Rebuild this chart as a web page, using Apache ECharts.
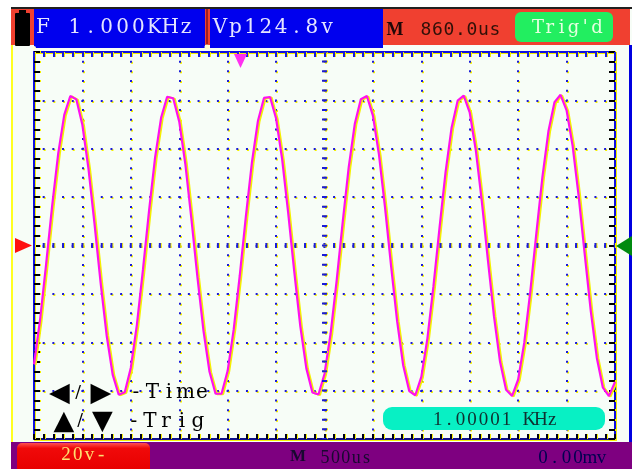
<!DOCTYPE html>
<html><head><meta charset="utf-8">
<script src="https://cdn.jsdelivr.net/npm/echarts@6/dist/echarts.min.js"></script>
<style>html,body{margin:0;padding:0;background:#fff}#c{width:632px;height:469px}</style>
</head><body><div id="c"></div>
<script>
// ---- data ----
const timeDivisionsUs = [0,500,1000,1500,2000,2500,3000,3500,4000,4500,5000,5500,6000];
const voltDivisions = [-80,-60,-40,-20,0,20,40,60,80];
const sampleTimesUs = [0,62.5,125,187.5,250,312.5,375,437.5,500,562.5,625,687.5,750,812.5,875,937.5,
1000,1062.5,1125,1187.5,1250,1312.5,1375,1437.5,1500,1562.5,1625,1687.5,1750,1812.5,1875,1937.5,
2000,2062.5,2125,2187.5,2250,2312.5,2375,2437.5,2500,2562.5,2625,2687.5,2750,2812.5,2875,2937.5,
3000,3062.5,3125,3187.5,3250,3312.5,3375,3437.5,3500,3562.5,3625,3687.5,3750,3812.5,3875,3937.5,
4000,4062.5,4125,4187.5,4250,4312.5,4375,4437.5,4500,4562.5,4625,4687.5,4750,4812.5,4875,4937.5,
5000,5062.5,5125,5187.5,5250,5312.5,5375,5437.5,5500,5562.5,5625,5687.5,5750,5812.5,5875,5937.5,6000];
const voltsCh1 = [-49.1,-30.8,-7.8,16.4,38.0,54.0,61.8,60.4,49.8,31.8,8.9,-15.2,-37.1,-53.4,-61.7,-60.7,
-50.5,-32.8,-10.1,14.1,36.2,52.8,61.5,60.9,51.2,33.8,11.2,-13.0,-35.2,-52.2,-61.3,-61.2,
-51.8,-34.7,-12.4,11.8,34.2,51.5,61.0,61.4,52.5,35.7,13.5,-10.7,-33.3,-50.8,-60.8,-61.6,
-53.1,-36.6,-14.7,9.5,32.3,50.2,60.5,61.8,53.7,37.6,15.8,-8.4,-31.3,-49.5,-60.2,-61.9,
-54.3,-38.5,-16.9,7.2,30.2,48.7,59.9,62.0,54.9,39.4,18.1,-6.0,-29.2,-48.0,-59.6,-62.2,
-55.4,-40.3,-19.2,4.9,28.2,47.2,59.2,62.3,55.9,41.2,20.3,-3.7,-27.1,-46.5,-58.8,-62.3,-56.4];
const readFreq = 'F 1.000KHz';
const readVpp = 'Vp124.8v';
const readTrigPos = '860.0us';
const readTrigState = "Trig'd";
const readFreqCounter = '1.00001 KHz';
const readVoltDiv = '20v-';
const readTimeDiv = '500us';
const readOffset = '0.00mv';

// ---- chart ----
const chart = echarts.init(document.getElementById('c'), null, {renderer:'canvas'});
const tickMin = timeDivisionsUs[0], tickMax = timeDivisionsUs[timeDivisionsUs.length-1];
const tStep = timeDivisionsUs[1]-timeDivisionsUs[0];
const vMin = voltDivisions[0], vMax = voltDivisions[voltDivisions.length-1];
const vStep = voltDivisions[1]-voltDivisions[0];

const YEL = '#f4f000';
const dotLine = {color:'#1c1cd8', width:2, type:[2,7.68], dashOffset:1, shadowColor:YEL, shadowOffsetX:1, shadowOffsetY:1, shadowBlur:0};
function axisDeco(tickColor, len, lineColor, split){
  return {
    axisLine:{show:true, onZero:false, lineStyle:{color:lineColor, width:2, shadowColor:YEL, shadowOffsetX:1, shadowOffsetY:1}},
    axisTick:{show:true, inside:true, length:len, lineStyle:{color:tickColor, width:2, shadowColor:YEL, shadowOffsetX:1, shadowOffsetY:0}},
    minorTick:{show:true, splitNumber:5, length:len, lineStyle:{color:tickColor, width:2, shadowColor:YEL, shadowOffsetX:1, shadowOffsetY:0}},
    axisLabel:{show:false},
    splitLine:{show:split, lineStyle:dotLine},
    minorSplitLine:{show:false}
  };
}
function row(str, x0, pitch, y, font, fill, extra){
  return str.split('').map((ch,i)=>({type:'text', z:20, x:x0+i*pitch, y:y,
    style:Object.assign({text:ch, font:font, fill:fill, align:'center', verticalAlign:'middle'}, extra||{})}));
}
const shadowY = {shadowColor:'#ffff00', shadowOffsetX:1, shadowOffsetY:1, shadowBlur:0};
const serif = '"DejaVu Serif", "Liberation Serif", serif';
const lserif = '"Liberation Serif", "DejaVu Serif", serif';
const sym = '27px "DejaVu Sans", sans-serif';

const elements = [
  {type:'rect', z:-10, shape:{x:11,y:7,width:621,height:462}, style:{fill:'#f7fdf7'}},
  {type:'rect', z:-9, shape:{x:11,y:7,width:621,height:2}, style:{fill:'#202020'}},
  {type:'rect', z:-9, shape:{x:11,y:9,width:619,height:36}, style:{fill:'#f04030'}},
  {type:'rect', z:-8, shape:{x:34,y:9,width:171,height:39}, style:{fill:'#0000ee'}},
  {type:'rect', z:-8, shape:{x:210,y:9,width:173,height:39}, style:{fill:'#0000ee'}},
  {type:'rect', z:-8, shape:{x:206,y:9,width:2,height:39}, style:{fill:'#a02020'}},
  {type:'circle', z:-7, shape:{cx:207,cy:47,r:2.5}, style:{fill:'#ffffd0'}},
  {type:'circle', z:-7, shape:{cx:34,cy:48,r:2}, style:{fill:'#ffffe0'}},
  {type:'rect', z:-8, shape:{x:15,y:13,width:15,height:33,r:1}, style:{fill:'#000'}},
  {type:'rect', z:-8, shape:{x:19,y:10,width:7,height:4}, style:{fill:'#000'}},
  {type:'rect', z:-8, shape:{x:515,y:12,width:98,height:30,r:6}, style:{fill:'#22ee60'}},
  {type:'rect', z:-9, shape:{x:11,y:45,width:2,height:397}, style:{fill:'#ffff20'}},
  {type:'rect', z:-9, shape:{x:629,y:45,width:3,height:397}, style:{fill:'#0000e0'}},
  {type:'rect', z:-9, shape:{x:11,y:442,width:621,height:27}, style:{fill:'#7e0080'}},
  {type:'rect', z:-8, shape:{x:17,y:443,width:133,height:26,r:[5,5,0,0]},
    style:{fill:new echarts.graphic.LinearGradient(0,0,0,1,[{offset:0,color:'#ff5050'},{offset:0.2,color:'#f00a0a'},{offset:1,color:'#e80000'}])}},
  {type:'rect', z:5, shape:{x:383,y:407,width:222,height:23,r:9}, style:{fill:'#08f0c4'}},
  {type:'polygon', z:10, shape:{points:[[15,238],[32,245.5],[15,253]]}, style:{fill:'#ff1010'}},
  {type:'polygon', z:10, shape:{points:[[632,236],[616,246],[632,256]]}, style:{fill:'#008a10'}},
  {type:'polygon', z:10, shape:{points:[[234,54],[247,54],[240.5,68]]}, style:{fill:'#ff30f0'}}
];
elements.push(...row(readFreq, 43, 15.9, 28, '20px '+serif, '#e4e4ff'));
elements.push(...row(readVpp, 220, 15.3, 28, '20px '+serif, '#e4e4ff'));
elements.push({type:'text', z:20, x:395, y:30, style:{text:'M', font:'bold 18px '+lserif, fill:'#200808', align:'center', verticalAlign:'middle'}});
elements.push(...row(readTrigPos, 426, 11.5, 30, '18px "DejaVu Sans Mono", monospace', '#301008'));
elements.push(...row(readTrigState, 538, 11.8, 28, '18px '+serif, '#e6ffe0'));
elements.push(...row('◀', 59.5, 0, 394, sym, '#000', shadowY));
elements.push(...row('/', 78, 0, 393, '17px '+serif, '#000', shadowY));
elements.push(...row('▶', 101, 0, 394, sym, '#000', shadowY));
elements.push(...row('-Time', 136, 16.5, 393, '20px '+serif, '#000', shadowY));
elements.push(...row('▲', 64, 0, 422, sym, '#000', shadowY));
elements.push(...row('/', 80, 0, 421, '17px '+serif, '#000', shadowY));
elements.push(...row('▼', 102.5, 0, 422, sym, '#000', shadowY));
elements.push(...row('-Trig', 134, 16, 422, '20px '+serif, '#000', shadowY));
elements.push(...row(readFreqCounter, 437.7, 11.45, 420, '19px '+lserif, '#103030'));
elements.push(...row(readVoltDiv, 66, 11.7, 455, '19px '+lserif, '#ffe070'));
elements.push({type:'text', z:20, x:298, y:457, style:{text:'M', font:'bold 17px '+lserif, fill:'#180830', align:'center', verticalAlign:'middle'}});
elements.push(...row(readTimeDiv, 325, 10.4, 458, '18px '+lserif, '#180830'));
elements.push(...row(readOffset, 543, 11.7, 458, '19px '+lserif, '#000050'));

const option = {
  animation:false,
  backgroundColor:'#ffffff',
  grid:{left:34, top:52, width:581, height:387, show:false},
  xAxis:[
    Object.assign({type:'value', min:tickMin, max:tickMax, interval:tStep, position:'bottom'}, axisDeco('#000020',5,'#10108a',true)),
    Object.assign({type:'value', min:tickMin, max:tickMax, interval:tStep, position:'top'}, axisDeco('#1a1ae0',5,'#1010e0',false))
  ],
  yAxis:[
    Object.assign({type:'value', min:vMin, max:vMax, interval:vStep, position:'left'}, axisDeco('#000000',6,'#1010e0',true)),
    Object.assign({type:'value', min:vMin, max:vMax, interval:vStep, position:'right'}, axisDeco('#000000',6,'#1010e0',false))
  ],
  series:[
    {type:'line', z:1, data:[], xAxisIndex:0, yAxisIndex:0, silent:true,
      markLine:{silent:true, symbol:'none', label:{show:false}, animation:false,
        lineStyle:{color:'#1c1cd8', width:5, type:[2,7.68], dashOffset:1, shadowColor:YEL, shadowOffsetX:1, shadowOffsetY:0},
        data:[{yAxis:0},{xAxis:3000}]}},
    {type:'line', z:3, xAxisIndex:0, yAxisIndex:0, showSymbol:false, silent:true,
      data: sampleTimesUs.map((t,i)=>[t, voltsCh1[i]]),
      lineStyle:{color:'#ff10f0', width:2.2, shadowColor:'#f4f000', shadowOffsetX:1.5, shadowOffsetY:0.5, shadowBlur:0}}
  ],
  graphic:{elements:elements}
};
chart.setOption(option);
</script></body></html>
